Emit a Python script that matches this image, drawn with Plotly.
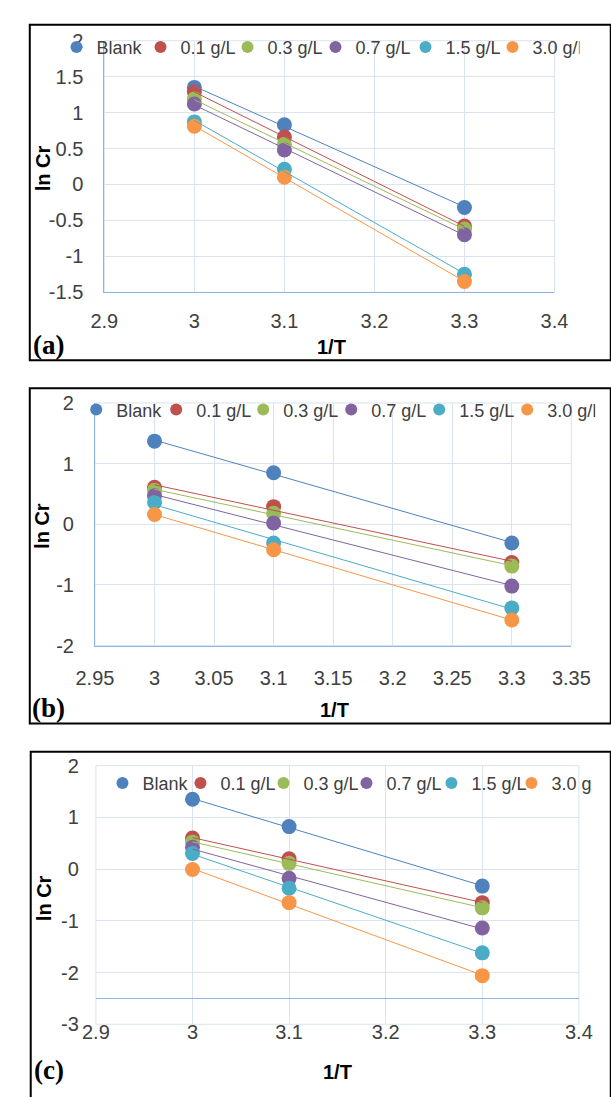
import numpy as np
import plotly.graph_objects as go

W, H = 611, 1097

# ---------------- data ----------------
inv_T = [3.0, 3.1, 3.3]
series_names = ["Blank", "0.1 g/L", "0.3 g/L", "0.7 g/L", "1.5 g/L", "3.0 g/L"]

# panel (a)
a_blank = [1.35, 0.83, -0.32]
a_01 = [1.29, 0.66, -0.58]
a_03 = [1.19, 0.56, -0.62]
a_07 = [1.12, 0.48, -0.70]
a_15 = [0.87, 0.21, -1.25]
a_30 = [0.81, 0.10, -1.35]

# panel (b)
b_blank = [1.37, 0.85, -0.31]
b_01 = [0.61, 0.29, -0.63]
b_03 = [0.56, 0.18, -0.69]
b_07 = [0.47, 0.02, -1.02]
b_15 = [0.36, -0.31, -1.38]
b_30 = [0.16, -0.42, -1.58]

# panel (c)
c_blank = [1.35, 0.82, -0.33]
c_01 = [0.60, 0.20, -0.65]
c_03 = [0.52, 0.11, -0.75]
c_07 = [0.42, -0.18, -1.14]
c_15 = [0.30, -0.37, -1.62]
c_30 = [-0.01, -0.65, -2.06]

# ticks
x_ticks_ac = [2.9, 3.0, 3.1, 3.2, 3.3, 3.4]
x_labels_ac = ["2.9", "3", "3.1", "3.2", "3.3", "3.4"]
x_ticks_b = [2.95, 3.0, 3.05, 3.1, 3.15, 3.2, 3.25, 3.3, 3.35]
x_labels_b = ["2.95", "3", "3.05", "3.1", "3.15", "3.2", "3.25", "3.3", "3.35"]
y_ticks_a = [-1.5, -1, -0.5, 0, 0.5, 1, 1.5, 2]
y_labels_a = ["-1.5", "-1", "-0.5", "0", "0.5", "1", "1.5", "2"]
y_ticks_b = [-2, -1, 0, 1, 2]
y_labels_b = ["-2", "-1", "0", "1", "2"]
y_ticks_c = [-3, -2, -1, 0, 1, 2]
y_labels_c = ["-3", "-2", "-1", "0", "1", "2"]

x_axis_cross_c = -2.5

# ---------------- styles ----------------
colors = ["#4F81BD", "#C0504D", "#9BBB59", "#8064A2", "#4BACC6", "#F79646"]
grid_color = "#D9E3F2"
axis_color = "#8EB4E3"
tick_font = dict(family="Liberation Sans, Arial, sans-serif", size=20, color="#404040")
legend_font = dict(family="Liberation Sans, Arial, sans-serif", size=18, color="#404040")
title_font = dict(family="Liberation Sans, Arial, sans-serif", size=20, color="#000000")
label_font = dict(family="Liberation Serif, Times New Roman, serif", size=27, color="#000000")


def fx(px):
    return px / W


def fy(py):
    return 1 - py / H


panels = [
    dict(tag="(a)", series=[a_blank, a_01, a_03, a_07, a_15, a_30],
         xpx=(91, 571), ypx=(30.3, 287), xr=[2.9, 3.4], yr=[-1.5, 2],
         xt=x_ticks_ac, xl=x_labels_ac, yt=y_ticks_a, yl=y_labels_a,
         xstand=11, cross=None, yline=True,
         leg_x=40, leg_y=37, leg_w=[39, 42, 43, 45, 42, 42],
         ylab=(25, 160), xlab=(333, 343), tagpos=(31, 341),
         box=(11.5, 14, 356.5)),
    dict(tag="(b)", series=[b_blank, b_01, b_03, b_07, b_15, b_30],
         xpx=(81, 589), ypx=(400, 647.5), xr=[2.95, 3.35], yr=[-2, 2],
         xt=x_ticks_b, xl=x_labels_b, yt=y_ticks_b, yl=y_labels_b,
         xstand=14, cross=None, yline=True,
         leg_x=61, leg_y=407, leg_w=[35, 42, 43, 43, 43, 43],
         ylab=(25, 525), xlab=(336, 713), tagpos=(31, 711),
         box=(11.5, 385, 727)),
    dict(tag="(c)", series=[c_blank, c_01, c_03, c_07, c_15, c_30],
         xpx=(82, 597), ypx=(770, 1034), xr=[2.9, 3.4], yr=[-3, 2],
         xt=x_ticks_ac, xl=x_labels_ac, yt=y_ticks_c, yl=y_labels_c,
         xstand=16, cross=x_axis_cross_c, yline=False,
         leg_x=89, leg_y=788, leg_w=[33, 38, 38, 40, 35, 35],
         ylab=(27, 905), xlab=(340, 1083), tagpos=(32, 1081),
         box=(12.5, 756, 1120)),
]

fig = go.Figure()
layout = dict(width=W, height=H, margin=dict(l=0, r=0, t=0, b=0),
              paper_bgcolor="white", plot_bgcolor="white", showlegend=True)
shapes = []
annotations = []

for i, p in enumerate(panels):
    n = "" if i == 0 else str(i + 1)
    xa, ya = "x" + n, "y" + n
    leg = "legend" + n
    xdom = [fx(p["xpx"][0]), fx(p["xpx"][1])]
    ydom = [fy(p["ypx"][1]), fy(p["ypx"][0])]

    # markers (legend entries)
    for k, (name, vals) in enumerate(zip(series_names, p["series"])):
        fig.add_trace(go.Scatter(
            x=inv_T, y=vals, mode="markers", name=name,
            marker=dict(size=15, color=colors[k]),
            xaxis=xa, yaxis=ya, legend=leg, legendwidth=p["leg_w"][k],
            showlegend=True, hoverinfo="skip"))
    # linear trendlines
    for k, vals in enumerate(p["series"]):
        slope, icpt = np.polyfit(inv_T, vals, 1)
        xs = np.array([min(inv_T), max(inv_T)])
        fig.add_trace(go.Scatter(
            x=xs, y=slope * xs + icpt, mode="lines",
            line=dict(color=colors[k], width=1),
            xaxis=xa, yaxis=ya, showlegend=False, hoverinfo="skip"))

    xax = dict(domain=xdom, range=p["xr"], tickmode="array", tickvals=p["xt"],
               ticktext=p["xl"], showgrid=True, gridcolor=grid_color, gridwidth=1,
               zeroline=False, showline=True, linecolor=axis_color, linewidth=1,
               ticks="", tickfont=tick_font, ticklabelstandoff=p["xstand"],
               fixedrange=True)
    if p["cross"] is None:
        xax["anchor"] = ya
    else:
        frac = (p["cross"] - p["yr"][0]) / (p["yr"][1] - p["yr"][0])
        xax["anchor"] = "free"
        xax["position"] = ydom[0] + frac * (ydom[1] - ydom[0])
    yax = dict(domain=ydom, range=p["yr"], tickmode="array", tickvals=p["yt"],
               ticktext=p["yl"], showgrid=True, gridcolor=grid_color, gridwidth=1,
               zeroline=False, showline=p["yline"], linecolor=axis_color, linewidth=1,
               ticks="", tickfont=tick_font, ticklabelstandoff=16, anchor=xa,
               fixedrange=True)
    layout["xaxis" + n] = xax
    layout["yaxis" + n] = yax

    layout[leg] = dict(orientation="h", x=fx(p["leg_x"]), y=fy(p["leg_y"]),
                       xanchor="left", yanchor="middle", bgcolor="rgba(0,0,0,0)",
                       borderwidth=0, font=legend_font, itemsizing="constant")

    # plot-area frame in grid colour
    shapes.append(dict(type="rect", xref=xa + " domain", yref=ya + " domain",
                       x0=0, x1=1, y0=0, y1=1, layer="below",
                       line=dict(color=grid_color, width=1)))
    # black panel box
    bx, by0, by1 = p["box"]
    shapes.append(dict(type="rect", xref="paper", yref="paper",
                       x0=fx(bx), x1=fx(W + 20), y0=fy(by1), y1=fy(by0),
                       line=dict(color="#000000", width=2), layer="above"))

    annotations.append(dict(text="<b>ln Cr</b>", xref="paper", yref="paper",
                            x=fx(p["ylab"][0]), y=fy(p["ylab"][1]), textangle=-90,
                            showarrow=False, xanchor="center", yanchor="middle",
                            font=title_font))
    annotations.append(dict(text="<b>1/T</b>", xref="paper", yref="paper",
                            x=fx(p["xlab"][0]), y=fy(p["xlab"][1]),
                            showarrow=False, xanchor="center", yanchor="middle",
                            font=title_font))
    annotations.append(dict(text="<b>" + p["tag"] + "</b>", xref="paper", yref="paper",
                            x=fx(p["tagpos"][0]), y=fy(p["tagpos"][1]),
                            showarrow=False, xanchor="center", yanchor="middle",
                            font=label_font))

layout["shapes"] = shapes
layout["annotations"] = annotations
fig.update_layout(**layout)

fig.write_html("out.html", config={"displayModeBar": False})
